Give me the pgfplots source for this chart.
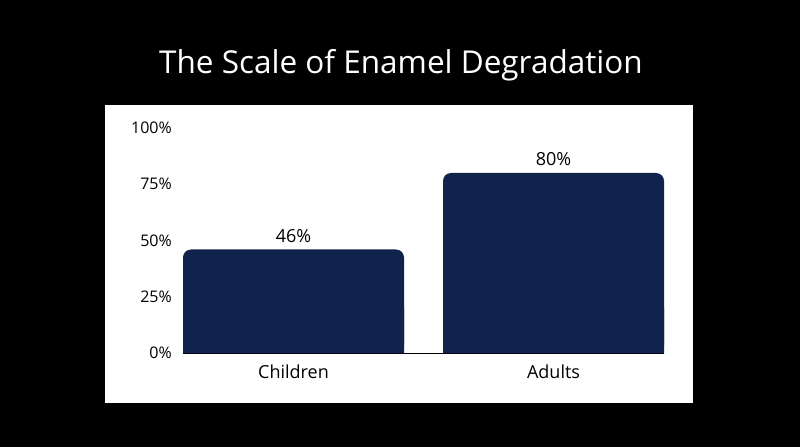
\documentclass[border=0pt]{standalone}
\usepackage{pgfplots}
\pgfplotsset{compat=1.18}
\usepackage{fontspec}
\setmainfont{Open Sans}
\definecolor{barnavy}{RGB}{16,35,77}
\definecolor{baseline}{RGB}{215,215,215}

\begin{document}
\begin{tikzpicture}[x=1pt,y=1pt]
  \fill[black] (0,0) rectangle (800,447);
  \fill[white] (105,44) rectangle (693,342);
  \node[white,font=\fontsize{31.5}{38}\selectfont] at (401,382) {The Scale of Enamel Degradation};
  \begin{axis}[
      at={(163.5pt,94pt)}, anchor=south west,
      scale only axis, width=520pt, height=225pt,
      xmin=-0.5, xmax=1.5, ymin=0, ymax=100,
      axis line style={draw=none},
      major tick length=0pt,
      xtick={0,1}, xticklabels={Children,Adults},
      ytick={0,25,50,75,100},
      yticklabel={\pgfmathprintnumber{\tick}\%},
      /pgf/number format/assume math mode=true,
      xticklabel style={inner sep=0pt, yshift=-12pt, font=\fontsize{18}{22}\selectfont},
      yticklabel style={inner sep=0pt, anchor=east, xshift=8.5pt, font=\fontsize{16}{19}\selectfont},
      clip=false,
    ]
    \draw[baseline, line width=1pt] (axis cs:-0.425,0) -- (axis cs:1.425,0);
    % square lower part so only the top corners look rounded
    \addplot[ybar, bar width=221pt, bar shift=0pt, fill=barnavy, draw=none]
      coordinates {(0,20) (1,20)};
    \addplot[ybar, bar width=221pt, bar shift=0pt, fill=barnavy, draw=none,
      rounded corners=8pt,
      nodes near coords={\pgfmathprintnumber{\pgfplotspointmeta}\%},
      every node near coord/.append style={font=\fontsize{18}{22}\selectfont,
        text=black, anchor=south, inner sep=0pt, yshift=7pt, rounded corners=0pt}]
      coordinates {(0,46) (1,80)};
  \end{axis}
\end{tikzpicture}
\end{document}
